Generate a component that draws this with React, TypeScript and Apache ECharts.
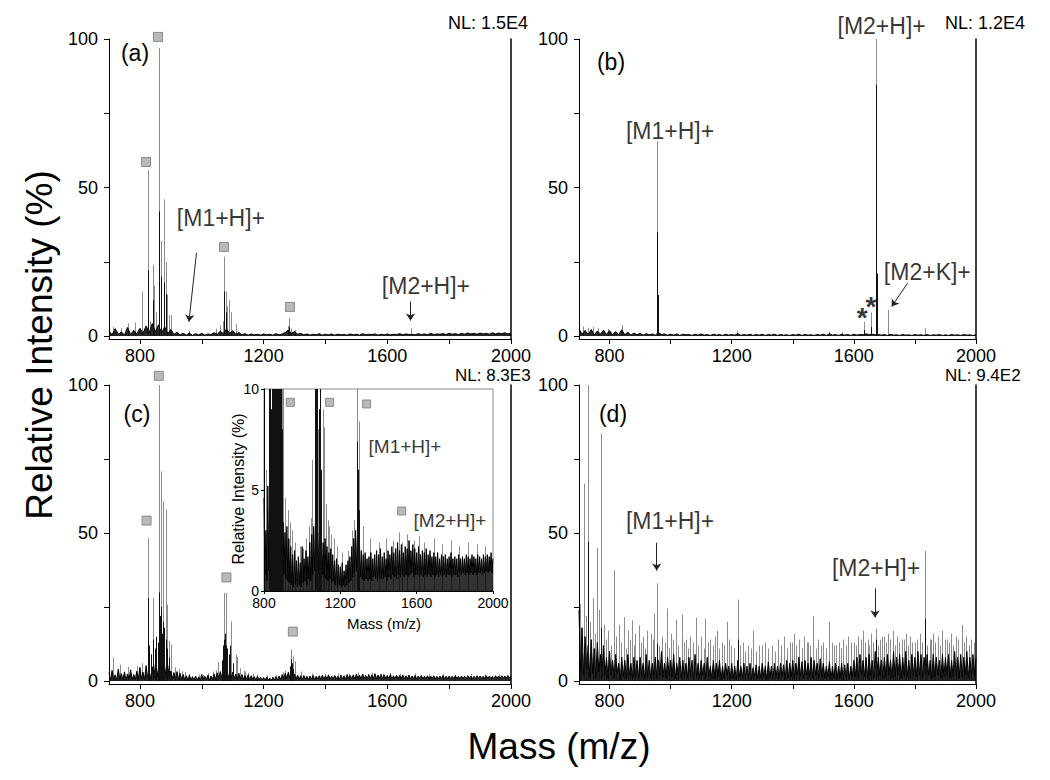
import React, { useEffect, useRef } from 'react';
import * as echarts from 'echarts';

const FONT = '"Liberation Sans", Arial, Helvetica, sans-serif';

// ---------- axes ----------
const X_MIN = 700;
const X_MAX = 2000;
const X_TICKS = [800, 1000, 1200, 1400, 1600, 1800, 2000];
const X_LABELS = [800, 1200, 1600, 2000];
const Y_MIN = -1;
const Y_MAX = 100;
const Y_TICKS = [0, 25, 50, 75, 100];
const Y_LABELS = [0, 50, 100];
const INSET_X = [800, 2000];
const INSET_Y = [0, 10];

// ---------- panel (a) NL: 1.5E4 ----------
const noiseStepA = 10; // m/z spacing of baseline readings, starting at 700
const noiseA = [
  1.8, 0.4, 2.5, 0.6, 1.4, 0.3, 2.9, 0.5, 1.9, 0.7,
  2.6, 0.9, 3.4, 1.1, 4.2, 1.4, 3.8, 1.0, 3.1, 0.8,
  2.2, 0.5, 1.3, 0.4, 0.9, 0.3, 1.0, 0.2, 0.8, 0.4,
  0.9, 0.3, 0.7, 0.5, 1.1, 0.6, 1.6, 0.8, 2.4, 0.9,
  1.8, 0.6, 1.2, 0.4, 0.8, 0.3, 0.7, 0.4, 0.6, 0.3,
  0.7, 0.4, 0.6, 0.3, 0.8, 0.4, 0.7, 1.2, 2.0, 0.9,
  1.5, 0.6, 0.9, 0.4, 0.7, 0.3, 0.6, 0.4, 0.8, 0.3,
  0.6, 0.4, 0.7, 0.3, 0.6, 0.4, 0.5, 0.3, 0.7, 0.4,
  0.6, 0.3, 0.8, 0.4, 0.6, 0.5, 0.7, 0.3, 0.6, 0.4,
  0.7, 0.4, 0.6, 0.5, 0.8, 0.4, 0.7, 0.5, 0.6, 0.4,
  0.8, 0.5, 0.7, 0.4, 0.9, 0.5, 0.7, 0.6, 0.8, 0.5,
  0.9, 0.6, 0.8, 0.5, 0.9, 0.6, 1.0, 0.7, 0.9, 0.6,
  1.0, 0.7, 0.9, 0.6, 1.1, 0.7, 1.0, 0.8, 1.1, 0.7,
  1.0,
];
const peaksA: [number, number][] = [
  [712, 3.0], [738, 2.6], [762, 4.2], [784, 4.5], [807.5, 15], [826, 55.8], [833, 5],
  [841, 24], [845, 17], [852, 8], [860.4, 97], [862.5, 42], [868, 32], [876.6, 46],
  [883, 25], [886, 14], [894.8, 7], [901, 7], [958.5, 1.8], [1045, 2.5], [1058, 3.5],
  [1067.5, 5], [1072.7, 26.7], [1078, 15], [1080.4, 10], [1089, 12], [1094.3, 8],
  [1110.5, 4], [1279.7, 3.4], [1283, 6], [1290, 2.5], [1300, 2], [1675.6, 2.6],
];
const coresA: [number, number][] = [
  [826, 22], [841, 12], [860.4, 42], [868, 20], [876.6, 18], [883, 14], [1072.7, 15],
  [1078, 8], [1283, 3],
];
const markersA: [number, number][] = [[858.5, 100.7], [819.7, 58.6], [1071.9, 30], [1285.3, 9.8]];

// ---------- panel (b) NL: 1.2E4 ----------
const noiseStepB = 10;
const noiseB = [
  2.4, 0.6, 1.9, 0.5, 2.2, 0.4, 1.7, 0.6, 2.0, 0.5,
  1.8, 0.4, 1.5, 0.5, 2.1, 0.4, 1.3, 0.3, 1.0, 0.4,
  0.9, 0.3, 0.8, 0.4, 0.7, 0.3, 1.2, 0.5, 0.7, 0.3,
  0.6, 0.3, 0.7, 0.2, 0.6, 0.4, 0.5, 0.2, 0.6, 0.3,
  0.7, 0.3, 0.5, 0.2, 0.6, 0.3, 0.5, 0.2, 0.6, 0.3,
  0.5, 0.3, 0.8, 0.2, 0.5, 0.3, 0.6, 0.2, 0.5, 0.3,
  0.6, 0.2, 0.5, 0.3, 0.6, 0.2, 0.5, 0.3, 0.4, 0.2,
  0.5, 0.3, 0.6, 0.2, 0.5, 0.3, 0.4, 0.2, 0.5, 0.3,
  0.6, 0.2, 0.8, 0.3, 0.5, 0.2, 0.6, 0.3, 0.5, 0.2,
  0.6, 0.3, 0.5, 0.4, 0.7, 0.5, 0.6, 0.4, 0.5, 0.3,
  0.5, 0.2, 0.6, 0.3, 0.4, 0.2, 0.5, 0.3, 0.4, 0.2,
  0.5, 0.3, 0.4, 0.2, 0.5, 0.2, 0.4, 0.3, 0.5, 0.2,
  0.4, 0.2, 0.5, 0.3, 0.4, 0.2, 0.5, 0.3, 0.4, 0.2,
  0.4,
];
const peaksB: [number, number][] = [
  [712, 3.2], [728, 2.8], [745, 3.0], [762, 2.6], [795, 2.4], [839.8, 3.7], [954.4, 65.5],
  [957.7, 2.5], [1218, 1.8], [1520, 1.5], [1560, 1.3], [1632.2, 4.8], [1655, 8],
  [1672.6, 100], [1675.8, 21], [1710.9, 8.8], [1834, 2.6],
];
const coresB: [number, number][] = [
  [954.4, 35], [957.7, 13.8], [1672.6, 84.6], [1675.8, 21], [1632.2, 2], [1655, 3],
];

// ---------- panel (c) NL: 8.3E3 (and its inset) ----------
const noiseStepC = 5;
const noiseC = [
  2.8, 0.3, 3.6, 0.5, 2.1, 0.2, 4.0, 0.6, 2.5, 0.4,
  3.1, 0.3, 2.4, 0.7, 3.8, 0.4, 2.2, 0.5, 3.3, 0.6,
  4.6, 0.8, 3.0, 0.5, 5.2, 1.0, 3.4, 0.7, 4.8, 1.2,
  5.5, 1.4, 4.4, 1.0, 6.0, 1.5, 4.9, 1.1, 5.3, 0.9,
  3.4, 0.8, 2.9, 0.6, 3.2, 0.5, 2.6, 0.4, 2.2, 0.3,
  1.8, 0.2, 2.0, 0.3, 1.5, 0.2, 1.7, 0.3, 1.4, 0.2,
  2.2, 0.4, 1.6, 0.5, 2.0, 0.3, 1.7, 0.6, 2.4, 0.5,
  2.8, 0.8, 3.2, 1.0, 3.6, 1.2, 3.0, 0.9, 2.9, 1.0,
  3.0, 0.8, 2.4, 0.7, 2.6, 0.6, 2.2, 0.5, 1.9, 0.6,
  2.1, 0.4, 1.8, 0.5, 1.5, 0.3, 1.6, 0.2, 1.3, 0.3,
  1.2, 0.2, 1.4, 0.3, 1.0, 0.2, 1.3, 0.3, 1.5, 0.4,
  1.7, 0.5, 2.2, 0.7, 2.6, 0.9, 3.0, 1.0, 2.8, 0.9,
  2.4, 0.7, 2.0, 0.6, 1.8, 0.5, 1.9, 0.6, 1.6, 0.5,
  1.7, 0.6, 1.9, 0.5, 1.6, 0.7, 1.8, 0.6, 2.0, 0.5,
  1.8, 0.7, 2.1, 0.6, 1.7, 0.6, 1.9, 0.7, 1.6, 0.5,
  2.0, 0.7, 1.8, 0.6, 2.2, 0.8, 1.9, 0.7, 2.1, 0.6,
  2.4, 0.8, 2.0, 0.7, 2.3, 0.8, 1.9, 0.7, 2.2, 0.8,
  2.1, 0.7, 2.5, 0.8, 2.0, 0.9, 2.3, 0.7, 2.1, 0.8,
  1.9, 0.8, 2.2, 0.7, 1.8, 0.8, 2.0, 0.7, 1.9, 0.8,
  2.1, 0.7, 1.8, 0.8, 2.0, 0.7, 1.7, 0.8, 1.9, 0.7,
  1.7, 0.8, 1.9, 0.7, 1.6, 0.8, 1.8, 0.7, 1.7, 0.8,
  1.8, 0.7, 1.6, 0.8, 1.7, 0.8, 1.9, 0.7, 1.6, 0.8,
  1.7, 0.8, 1.6, 0.7, 1.8, 0.9, 1.6, 0.8, 1.7, 0.9,
  1.6, 0.8, 1.8, 0.9, 1.7, 0.8, 1.6, 0.9, 1.8, 0.8,
  1.7, 0.9, 1.6, 0.8, 1.8, 0.9, 1.7, 0.9, 1.6, 0.8,
  1.8, 0.9, 1.7, 1.0, 1.8, 0.9, 1.7, 1.0, 1.9, 0.9,
  1.6,
];
const peaksC: [number, number][] = [
  [714, 7.9], [735, 5.5], [760, 4.8], [790, 5.0], [808, 6.0], [825.9, 48.3], [843, 28],
  [860.4, 100], [862.5, 45.5], [867, 70.8], [869, 27], [875.5, 60.7], [883, 57.9],
  [886, 25.8], [892.7, 13.5], [899, 12.4], [912, 4.6], [925, 4.0], [935, 3.4], [945, 3.0],
  [960, 2.4], [990, 2.2], [1005, 2.1], [1020, 2.6], [1035, 3.2], [1045, 3.6], [1053, 6.5],
  [1071.7, 29.8], [1077, 29.8], [1082, 8], [1095.3, 20.2], [1110.5, 9], [1114, 8.1],
  [1125, 4.3], [1135, 3.5], [1140, 3.2], [1150, 2.8], [1165, 2.6], [1180, 2.2], [1210, 1.9],
  [1240, 2.0], [1262, 3.0], [1270, 3.5], [1289.5, 10.7], [1296, 8.4], [1300.3, 6.7],
  [1320, 3.2], [1355, 2.6], [1400, 2.4], [1440, 2.6], [1475, 2.5], [1505, 2.9], [1522, 2.4],
  [1550, 2.8], [1585, 2.5], [1610, 2.7], [1640, 2.4], [1690, 2.6], [1735, 2.3], [1780, 2.5],
  [1820, 2.2], [1870, 2.4], [1915, 2.3], [1960, 2.2],
];
const coresC: [number, number][] = [
  [825.9, 28], [830, 12], [836, 9], [843, 14], [848, 11], [853, 15], [857, 13], [860.4, 30],
  [864, 22], [867, 25], [872, 16], [875.5, 20], [879, 18], [883, 14], [889, 11], [895, 8],
  [1065, 7], [1068, 12], [1071.7, 14], [1074, 16], [1077, 12], [1080, 11], [1088, 9],
  [1092, 12], [1100, 6], [1285, 5], [1289.5, 7.4], [1293, 6], [1296, 4],
];
const markersC: [number, number][] = [[821.6, 54.2], [861, 103.1], [1079.7, 35], [1294.5, 16.7]];
const markersInset: [number, number][] = [[937.9, 9.34], [1144, 9.34], [1338, 9.26], [1521.5, 3.96]];

// ---------- panel (d) NL: 9.4E2 ----------
const noiseStepD = 5;
const noiseD = [
  24, 3, 18, 2, 15, 4, 12, 1.5, 14, 2.5,
  11, 1, 13, 3, 9, 1.5, 12, 2, 8, 1,
  10, 2, 7, 1, 9, 2.5, 6, 0.5, 8, 1.5,
  7, 1, 9, 2, 6, 0.8, 8, 1.5, 7, 1,
  8, 2, 6, 1, 9, 1.5, 7, 0.8, 6, 2,
  8, 1, 7, 2, 10, 1.5, 6, 1, 8, 2,
  7, 1.5, 9, 0.8, 6, 2, 8, 1, 7, 1.5,
  6, 1, 8, 2, 7, 0.5, 9, 1.5, 6, 1,
  7, 2, 6, 1, 8, 1.5, 5, 0.8, 7, 1,
  6, 1.5, 7, 0.5, 5, 1, 6, 2, 5, 0.8,
  6, 1, 5, 0.5, 7, 1.5, 5, 1, 6, 0.8,
  5, 1, 6, 0.5, 4.5, 1.5, 5.5, 0.8, 5, 1,
  6, 1.5, 5, 0.5, 6.5, 1, 5, 0.8, 6, 1.2,
  5, 0.8, 6, 1.5, 5.5, 0.5, 7, 1, 6, 1.5,
  7, 1, 6, 2, 8, 1.5, 6.5, 1, 7, 2,
  6, 1.5, 8, 1, 7, 2, 6, 0.8, 7.5, 1.5,
  6, 1, 5, 1.5, 6.5, 0.5, 5, 1, 6, 0.8,
  5, 1, 6, 0.5, 5.5, 1.2, 6, 1, 5, 1.5,
  7, 1.5, 8, 1, 9, 2, 7, 1.5, 8, 1,
  9, 2, 7, 1, 10, 1.5, 8, 2, 7, 1,
  8, 1.5, 9, 2, 7, 1, 10, 1.5, 8, 2,
  9, 1, 8, 2, 10, 1.5, 7, 1, 9, 2,
  8, 1.5, 10, 2, 9, 1, 8, 1.5, 9, 2,
  7, 1, 9, 1.5, 8, 2, 7, 1, 9, 1.5,
  8, 2, 9, 1, 7, 1.5, 10, 2, 8, 1,
  9, 1.5, 8, 2, 10, 1, 8, 1.5, 9, 2,
  8,
];
const peaksD: [number, number][] = [
  [704, 26], [708, 18], [715, 66.7], [722, 22], [729, 100], [737, 20], [745, 28], [752, 16],
  [760, 45], [766, 24], [772, 83.6], [781, 19], [788, 14], [795, 17], [806, 12], [815, 37.4],
  [822, 15], [830, 19], [838, 13], [848, 21.6], [855, 11], [860, 17], [866, 14], [872, 20.5],
  [879, 12], [885, 16], [897, 18.8], [903, 13], [910, 15], [917, 11], [924, 17], [935, 16],
  [941, 14], [947, 22.8], [955, 33], [962, 12], [972, 15], [980, 13], [988, 24.5], [995, 11],
  [1002, 16], [1009, 14], [1016, 20.7], [1025, 12], [1037, 22.5], [1044, 13], [1050, 14],
  [1058, 11], [1065, 15], [1073, 13], [1084, 21.4], [1091, 12], [1100, 15], [1108, 11],
  [1114, 21], [1122, 13], [1130, 14], [1138, 12], [1145, 15], [1152, 17], [1160, 11],
  [1168, 13], [1176, 12], [1184, 20], [1190, 14], [1198, 12], [1207, 11], [1221, 27.5],
  [1228, 12], [1236, 13], [1245, 10], [1255, 12], [1263, 11], [1271, 17], [1280, 10],
  [1290, 12], [1298, 12], [1310, 13], [1320, 11], [1333, 12], [1341, 10], [1350, 14],
  [1362, 12], [1372, 15], [1381, 11], [1390, 13], [1397, 13], [1404, 16], [1412, 12],
  [1420, 14], [1429, 11], [1438, 15], [1445, 13], [1450, 13], [1458, 12], [1466, 21.9],
  [1475, 11], [1484, 14], [1492, 12], [1500, 13], [1509, 11], [1518, 20], [1527, 13],
  [1535, 12], [1543, 12], [1550, 13], [1558, 11], [1566, 14], [1575, 12], [1582, 15],
  [1590, 13], [1600, 13], [1607, 12], [1614, 15], [1622, 14], [1630, 17], [1637, 13],
  [1645, 14], [1651, 12], [1657, 16], [1664, 13], [1671, 17.7], [1679, 12], [1686, 14],
  [1693, 15], [1700, 15], [1706, 13], [1712, 16], [1720, 14], [1728, 17], [1735, 12],
  [1742, 15], [1749, 13], [1757, 14], [1763, 14], [1770, 16], [1777, 12], [1785, 15],
  [1792, 13], [1800, 13], [1807, 14], [1815, 16], [1822, 13], [1834, 43.9], [1841, 12],
  [1848, 14], [1854, 14], [1860, 16], [1867, 13], [1875, 15], [1882, 12], [1890, 17],
  [1897, 14], [1905, 14], [1911, 13], [1918, 16], [1926, 12], [1935, 15], [1942, 14],
  [1954, 19], [1960, 13], [1968, 15], [1976, 12], [1985, 14], [1992, 13],
];
const coresD: [number, number][] = [
  [729, 47], [772, 18], [955, 12.6], [1221, 14], [1671, 14], [1834, 21],
];

// ---------- annotations (text at [m/z, %], arrows from [m/z, %] to [m/z, %]) ----------
const annotA = [{ text: '[M1+H]+', at: [1062, 39.7] }, { text: '[M2+H]+', at: [1725, 16.8] }];
const arrowsA = [[983, 28, 958.5, 4.8], [1675, 11.6, 1675, 5.2]];
const annotB = [
  { text: '[M1+H]+', at: [998, 69.1] }, { text: '[M2+H]+', at: [1691, 104.4] },
  { text: '[M2+K]+', at: [1840.6, 21.7] },
];
const starsB = [{ text: '*', at: [1627.7, 6.4] }, { text: '*', at: [1656, 9.8] }];
const arrowsB = [[1776, 17.8, 1724, 9.9]];
const annotD = [{ text: '[M1+H]+', at: [998, 54.2] }, { text: '[M2+H]+', at: [1672.6, 38.1] }];
const arrowsD = [[954.4, 46.7, 954.4, 37.3], [1669.3, 31.3, 1669.3, 21.5]];
const annotInset = [{ text: '[M1+H]+', at: [1538.9, 7.13] }, { text: '[M2+H]+', at: [1774.7, 3.47] }];
const arrowsInset = [[1408, 6.58, 978, 2.33], [1686, 2.62, 1675, 1.88]];

// ---------- layout ----------
const PANELS = [
  { grid: { left: 109, top: 39, width: 402, height: 300 }, noise: noiseA, step: noiseStepA, peaks: peaksA, cores: coresA, markers: markersA, annot: annotA, stars: [], arrows: arrowsA },
  { grid: { left: 579, top: 39, width: 397, height: 300 }, noise: noiseB, step: noiseStepB, peaks: peaksB, cores: coresB, markers: [], annot: annotB, stars: starsB, arrows: arrowsB },
  { grid: { left: 109, top: 385, width: 402, height: 299 }, noise: noiseC, step: noiseStepC, peaks: peaksC, cores: coresC, markers: markersC, annot: [], stars: [], arrows: [] },
  { grid: { left: 579, top: 385, width: 397, height: 299 }, noise: noiseD, step: noiseStepD, peaks: peaksD, cores: coresD, markers: [], annot: annotD, stars: [], arrows: arrowsD },
];
const INSET_GRID = { left: 264, top: 389, width: 229, height: 202 };

const TEXTS = [
  { t: '(a)', x: 135, y: 53, s: 23 }, { t: '(b)', x: 611, y: 62, s: 23 },
  { t: '(c)', x: 137, y: 414, s: 23 }, { t: '(d)', x: 613, y: 414, s: 23 },
  { t: 'NL: 1.5E4', x: 448, y: 23, s: 18, a: 'left' }, { t: 'NL: 1.2E4', x: 945, y: 23, s: 18, a: 'left' },
  { t: 'NL: 8.3E3', x: 455, y: 375, s: 17, a: 'left' }, { t: 'NL: 9.4E2', x: 945, y: 375, s: 17, a: 'left' },
  { t: 'Relative Intensity (%)', x: 39, y: 345, s: 37, r: Math.PI / 2 },
  { t: 'Mass (m/z)', x: 559, y: 746, s: 37 },
  { t: 'Relative Intensity (%)', x: 238, y: 489, s: 16, r: Math.PI / 2 },
  { t: 'Mass (m/z)', x: 384, y: 623, s: 15 },
];

const plain = (v: number) => String(v);

const stickRender = (color: string) => (params: any, api: any) => {
  const x = api.value(0);
  const h = api.value(1);
  const base = api.coord([x, 0]);
  const tip = api.coord([x, h]);
  const cs = params.coordSys;
  const y1 = Math.min(base[1], cs.y + cs.height);
  const y2 = Math.max(tip[1], cs.y);
  const px = Math.round(base[0]) + 0.5;
  return { type: 'line', silent: true, shape: { x1: px, y1, x2: px, y2 }, style: { stroke: color, lineWidth: 1 } };
};

const labelSeries = (xi: number, yi: number, items: any[], size: number, z: number, weight = 'normal') => ({
  type: 'scatter', xAxisIndex: xi, yAxisIndex: yi, z, silent: true, clip: false,
  symbolSize: 1, itemStyle: { color: 'rgba(0,0,0,0)' },
  label: { show: true, position: 'inside', formatter: '{b}', fontSize: size, fontWeight: weight, color: '#000', fontFamily: FONT },
  data: items.map((a) => ({ name: a.text, value: a.at })),
});

function buildOption() {
  const grid: any[] = [];
  const xAxis: any[] = [];
  const yAxis: any[] = [];
  const series: any[] = [];
  const axisText = { color: '#000', fontFamily: FONT };

  PANELS.forEach((p, i) => {
    grid.push({ ...p.grid, containLabel: false });
    xAxis.push({
      gridIndex: i, type: 'value', min: X_MIN, max: X_MAX,
      axisLine: { show: true, onZero: false, lineStyle: { color: '#000', width: 1 } },
      axisTick: { show: true, customValues: X_TICKS, length: 5, lineStyle: { color: '#000' } },
      axisLabel: { customValues: X_LABELS, fontSize: 18, margin: 8, formatter: plain, ...axisText },
      splitLine: { show: false },
    });
    yAxis.push({
      gridIndex: i, type: 'value', min: Y_MIN, max: Y_MAX,
      axisLine: { show: true, onZero: false, lineStyle: { color: '#000', width: 1 } },
      axisTick: { show: true, customValues: Y_TICKS, length: 5, lineStyle: { color: '#000' } },
      axisLabel: { customValues: Y_LABELS, fontSize: 18, margin: 11, formatter: plain, ...axisText },
      splitLine: { show: false },
    });
    yAxis.push({
      gridIndex: i, type: 'value', position: 'right', min: Y_MIN, max: Y_MAX,
      axisLine: { show: true, onZero: false, lineStyle: { color: '#000', width: 1.5 } },
      axisTick: { show: false }, axisLabel: { show: false }, splitLine: { show: false },
    });
    const yi = i * 2;
    series.push({
      type: 'line', xAxisIndex: i, yAxisIndex: yi, z: 3, silent: true, clip: true,
      symbol: 'none', lineStyle: { color: '#000', width: 1 },
      areaStyle: { color: '#000', opacity: 0.85 },
      data: p.noise.map((v, k) => [X_MIN + k * p.step, v]),
      markLine: {
        silent: true, symbol: ['none', 'arrow'], symbolSize: 7, animation: false,
        lineStyle: { color: '#222', width: 1, type: 'solid' }, label: { show: false },
        data: p.arrows.map((a) => [{ coord: [a[0], a[1]] }, { coord: [a[2], a[3]] }]),
      },
    });
    series.push({ type: 'custom', xAxisIndex: i, yAxisIndex: yi, z: 2, silent: true, data: p.peaks, renderItem: stickRender('#8c8c8c') });
    series.push({ type: 'custom', xAxisIndex: i, yAxisIndex: yi, z: 4, silent: true, data: p.cores, renderItem: stickRender('#111') });
    if (p.markers.length) {
      series.push({
        type: 'scatter', xAxisIndex: i, yAxisIndex: yi, z: 5, silent: true, clip: false,
        symbol: 'rect', symbolSize: 9, itemStyle: { color: '#a9a9a9', borderColor: '#777', borderWidth: 1 },
        data: p.markers,
      });
    }
    if (p.annot.length) series.push(labelSeries(i, yi, p.annot, 23, 6));
    if (p.stars.length) series.push(labelSeries(i, yi, p.stars, 28, 6, 'bold'));
  });

  // inset of panel (c)
  const gi = 4;
  grid.push({ ...INSET_GRID, show: true, backgroundColor: '#fff', borderColor: '#8a8a8a', borderWidth: 1, z: 10 });
  xAxis.push({
    gridIndex: gi, type: 'value', min: INSET_X[0], max: INSET_X[1], interval: 400, z: 11,
    axisLine: { show: true, onZero: false, lineStyle: { color: '#000', width: 1 } },
    axisTick: { show: true, length: 3, lineStyle: { color: '#000' } },
    axisLabel: { fontSize: 14, margin: 5, formatter: plain, ...axisText }, splitLine: { show: false },
  });
  yAxis.push({
    gridIndex: gi, type: 'value', min: INSET_Y[0], max: INSET_Y[1], interval: 5, z: 11,
    axisLine: { show: true, onZero: false, lineStyle: { color: '#000', width: 1 } },
    axisTick: { show: true, length: 3, lineStyle: { color: '#000' } },
    axisLabel: { fontSize: 14, margin: 5, formatter: plain, ...axisText }, splitLine: { show: false },
  });
  const yInset = yAxis.length - 1;
  series.push({
    type: 'line', xAxisIndex: gi, yAxisIndex: yInset, z: 13, silent: true, clip: true,
    symbol: 'none', lineStyle: { color: '#000', width: 1 },
    areaStyle: { color: '#000', opacity: 0.8 },
    data: noiseC.map((v, k) => [X_MIN + k * noiseStepC, v]).filter((d) => d[0] >= INSET_X[0]),
    markLine: {
      silent: true, symbol: ['none', 'arrow'], symbolSize: 6, animation: false,
      lineStyle: { color: '#333', width: 1, type: 'solid' }, label: { show: false },
      data: arrowsInset.map((a) => [{ coord: [a[0], a[1]] }, { coord: [a[2], a[3]] }]),
    },
  });
  series.push({ type: 'custom', xAxisIndex: gi, yAxisIndex: yInset, z: 12, silent: true, data: peaksC.filter((d) => d[0] >= INSET_X[0]), renderItem: stickRender('#8c8c8c') });
  series.push({ type: 'custom', xAxisIndex: gi, yAxisIndex: yInset, z: 14, silent: true, data: coresC.filter((d) => d[0] >= INSET_X[0]), renderItem: stickRender('#111') });
  series.push({
    type: 'scatter', xAxisIndex: gi, yAxisIndex: yInset, z: 15, silent: true, clip: false,
    symbol: 'rect', symbolSize: 8, itemStyle: { color: '#a9a9a9', borderColor: '#777', borderWidth: 1 },
    data: markersInset,
  });
  series.push(labelSeries(gi, yInset, annotInset, 19, 16));

  const graphic = TEXTS.map((t: any) => ({
    type: 'text', x: t.x, y: t.y, rotation: t.r || 0, z: 50, silent: true,
    style: { text: t.t, fill: '#000', fontSize: t.s, fontFamily: FONT, align: t.a || 'center', verticalAlign: 'middle' },
  }));

  return { animation: false, backgroundColor: '#fff', grid, xAxis, yAxis, series, graphic };
}

export default function App() {
  const ref = useRef<HTMLDivElement>(null);
  useEffect(() => {
    if (!ref.current) return;
    const chart = echarts.init(ref.current, undefined, { renderer: 'svg' });
    chart.setOption(buildOption() as any);
    return () => chart.dispose();
  }, []);
  return (
    <div
      ref={ref}
      style={{ position: 'absolute', left: 0, top: 0, width: 1050, height: 780, background: '#fff' }}
    />
  );
}
